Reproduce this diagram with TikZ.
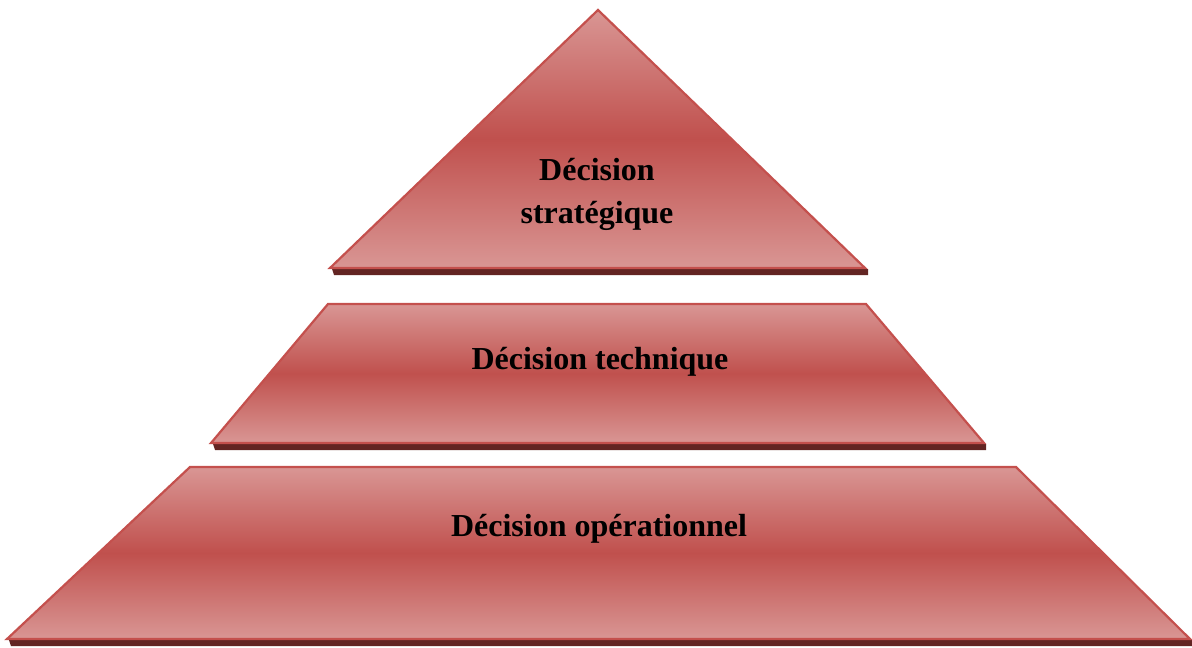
\documentclass[tikz,border=0pt]{standalone}
\usepackage{fontspec}
\setmainfont{Liberation Serif}
\definecolor{lightred}{HTML}{D99694}
\definecolor{midred}{HTML}{C0504D}
\definecolor{edgered}{HTML}{C4504D}
\definecolor{shadowred}{HTML}{632523}
\tikzset{
  layer/.style={draw=edgered, line width=2.2pt, line join=miter,
    top color=lightred, bottom color=lightred, middle color=midred},
  shadowband/.style={fill=shadowred, draw=none},
  label/.style={font=\fontsize{32}{43}\selectfont\bfseries, align=center, text=black}
}
\begin{document}
\begin{tikzpicture}[x=1pt,y=-1pt]
\useasboundingbox (0,0) rectangle (1192,648);
% shadows
\fill[shadowred] (332,269) -- (868,269) -- (868,275) -- (334,275) -- cycle;
\fill[shadowred] (213,444) -- (986,444) -- (986,450) -- (215,450) -- cycle;
\fill[shadowred] (9,640) -- (1192,640) -- (1192,646) -- (11,646) -- cycle;
% shapes
\coordinate (t1) at (598,10);
\coordinate (t2) at (865,268);
\coordinate (t3) at (330,268);
\path[layer] (t1) -- (t2) -- (t3) -- cycle;
\coordinate (m1) at (328,304);
\coordinate (m2) at (866,304);
\coordinate (m3) at (984,443);
\coordinate (m4) at (211,443);
\path[layer] (m1) -- (m2) -- (m3) -- (m4) -- cycle;
\coordinate (b1) at (190,467);
\coordinate (b2) at (1016,467);
\coordinate (b3) at (1190,639);
\coordinate (b4) at (7,639);
\path[layer] (b1) -- (b2) -- (b3) -- (b4) -- cycle;
% labels
\node[label] (strat) at (597,194) {Décision\\stratégique};
\node[label] (tech) at (600,362) {Décision technique};
\node[label] (oper) at (599,529) {Décision opérationnel};
\end{tikzpicture}
\end{document}
